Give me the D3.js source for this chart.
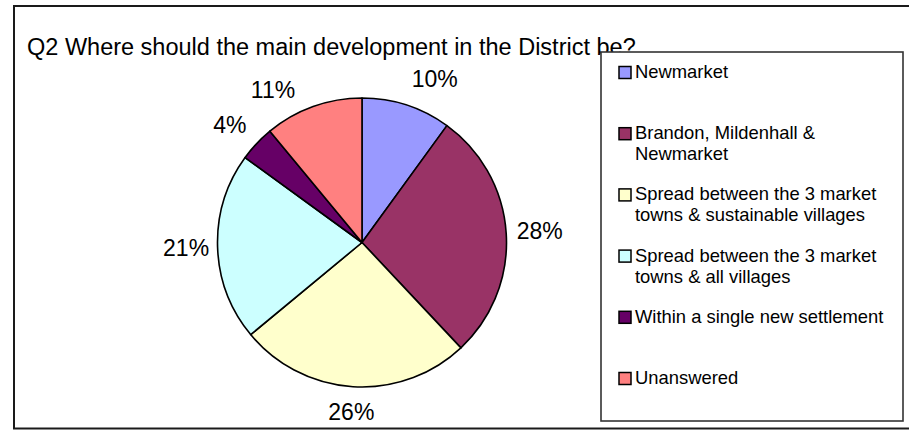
<!DOCTYPE html>
<html><head><meta charset="utf-8">
<script src="https://cdn.jsdelivr.net/npm/d3@7"></script>
<style>body{margin:0;background:#fff}svg{display:block}text{font-family:"Liberation Sans",Arial,sans-serif;fill:#000}</style>
</head><body><svg id="c" width="909" height="430"></svg>
<script>
const title = "Q2 Where should the main development in the District be?";
const categories = ["Newmarket","Brandon, Mildenhall & Newmarket","Spread between the 3 market towns & sustainable villages","Spread between the 3 market towns & all villages","Within a single new settlement","Unanswered"];
const values = [10, 28, 26, 21, 4, 11];
const colors = ["#9999FF","#993366","#FFFFCC","#CCFFFF","#660066","#FF8080"];

const svg = d3.select("#c");
// outer frame
svg.append("rect").attr("x",14).attr("y",6).attr("width",910).attr("height",422.5)
  .attr("fill","#fff").attr("stroke","#1a1a1a").attr("stroke-width",2);

svg.append("text").attr("x",27).attr("y",55).attr("font-size",23.5).text(title);

const cx = 362, cy = 242.5, R = 144.5;
const total = d3.sum(values);
const pie = d3.pie().sort(null).value(d=>d)(values);
const arc = d3.arc().innerRadius(0).outerRadius(R);
const g = svg.append("g").attr("transform",`translate(${cx},${cy})`);
g.selectAll("path").data(pie).join("path").attr("d",arc)
  .attr("fill",(d,i)=>colors[i]).attr("stroke","#000").attr("stroke-width",1.6).attr("stroke-linejoin","round");

// label placement (layout tweak in degrees)
const labelShift = [6, 0, 0, 0, -1.5, -10.4];
const labelR = [179, 178, 170, 176, 177, 177];
g.selectAll("text.lbl").data(pie).join("text").attr("class","lbl")
  .attr("font-size",23).attr("text-anchor","middle").attr("dy","0.35em")
  .attr("x",(d,i)=>{const a=(d.startAngle+d.endAngle)/2 + labelShift[i]*Math.PI/180; return Math.sin(a)*labelR[i];})
  .attr("y",(d,i)=>{const a=(d.startAngle+d.endAngle)/2 + labelShift[i]*Math.PI/180; return -Math.cos(a)*labelR[i];})
  .text(d=>Math.round(d.value/total*100)+"%");

// legend
const lx = 601, ly = 52, lw = 302, lh = 369;
svg.append("rect").attr("x",lx).attr("y",ly).attr("width",lw).attr("height",lh)
  .attr("fill","#fff").attr("stroke","#333").attr("stroke-width",1.6);
const slot = 61.2, fs = 18.4, maxW = 258;
const lg = svg.append("g");
categories.forEach((c,i)=>{
  const by = 78 + i*slot;
  lg.append("rect").attr("x",619).attr("y",by-11.5).attr("width",12).attr("height",12)
    .attr("fill",colors[i]).attr("stroke","#000").attr("stroke-width",1.5);
  const t = lg.append("text").attr("x",635).attr("y",by).attr("font-size",fs);
  const words = c.split(" ");
  let line = [], ln = 0;
  let ts = t.append("tspan").attr("x",635).attr("dy",0);
  words.forEach(w=>{
    line.push(w); ts.text(line.join(" "));
    if (ts.node().getComputedTextLength() > maxW && line.length>1){
      line.pop(); ts.text(line.join(" ")); line=[w]; ln++;
      ts = t.append("tspan").attr("x",635).attr("dy",21).text(w);
    }
  });
});
</script></body></html>
